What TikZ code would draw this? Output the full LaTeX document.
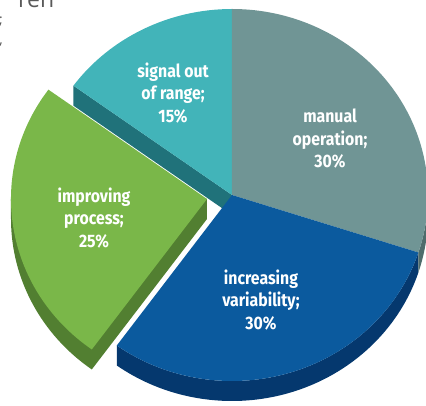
\documentclass[tikz,border=0pt]{standalone}
\usepackage{fontspec}
\newfontfamily\slicefont[FakeStretch=0.88]{Fira Sans}
\newfontfamily\notefont{Open Sans}
\definecolor{manualgray}{HTML}{709595}
\definecolor{manualside}{HTML}{4E6C6C}
\definecolor{signalteal}{HTML}{42B4B9}
\definecolor{signalside}{HTML}{20727A}
\definecolor{improvegreen}{HTML}{7AB749}
\definecolor{improveside}{HTML}{527F31}
\definecolor{varblue}{HTML}{0B5A9E}
\definecolor{varside}{HTML}{05386E}

\begin{document}
\begin{tikzpicture}
	[x=1pt, y=1pt,
	pie/.style = {x radius=196pt, y radius=186pt},
	slicelabel/.style = {text=white, align=center,
	font=\slicefont\bfseries\fontsize{18}{22.5}\selectfont},
	note/.style = {text=black!65, inner sep=0pt, font=\notefont\fontsize{23}{26}\selectfont},
	smallnote/.style = {note, font=\notefont\fontsize{14}{16}\selectfont}]
	\useasboundingbox (-232,-211) rectangle (194,195);
	\clip (-232,-211) rectangle (194,195);
	\def\depth{20}
	% cut off text at the top left
	\node[note, anchor=base west] (ren) at (-214,187) {ren};
	\node[smallnote, anchor=base east] (semi) at (-229,170) {;};
	\node[smallnote, anchor=base east] (comma) at (-229,150) {,};
	% sides
	\fill[signalside] (0,0) -- (144:196pt and 186pt) -- ++(0,-\depth) -- (0,-\depth) -- cycle;
	\fill[varside] (-126:196pt and 186pt) arc[pie, start angle=-126, end angle=-18]
		-- ++(0,-\depth) arc[pie, start angle=-18, end angle=-126] -- cycle;
	\fill[manualside] (-18:196pt and 186pt) arc[pie, start angle=-18, end angle=0]
		-- ++(0,-\depth) arc[pie, start angle=0, end angle=-18] -- cycle;
	% tops
	\fill[signalteal] (0,0) -- (144:196pt and 186pt) arc[pie, start angle=144, end angle=90] -- cycle;
	\fill[manualgray] (0,0) -- (90:196pt and 186pt) arc[pie, start angle=90, end angle=-18] -- cycle;
	\fill[varblue] (0,0) -- (-18:196pt and 186pt) arc[pie, start angle=-18, end angle=-126] -- cycle;
	% pulled out slice
	\begin{scope}[shift={(-25,-4)}]
		\fill[improveside] (0,-\depth) -- ++(234:196pt and 186pt) arc[pie, start angle=234, end angle=180]
			-- ++(0,\depth) -- (0,0) -- cycle;
		\fill[improvegreen] (0,0) -- (234:196pt and 186pt) arc[pie, start angle=234, end angle=144] -- cycle;
	\end{scope}
	% labels
	\node[slicelabel] (signal) at (-59,102) {signal out\\of range;\\15\%};
	\node[slicelabel] (manual) at (98,56) {manual\\operation;\\30\%};
	\node[slicelabel] (improving) at (-138,-23) {improving\\process;\\25\%};
	\node[slicelabel] (increasing) at (29,-105) {increasing\\variability;\\30\%};
\end{tikzpicture}
\end{document}
